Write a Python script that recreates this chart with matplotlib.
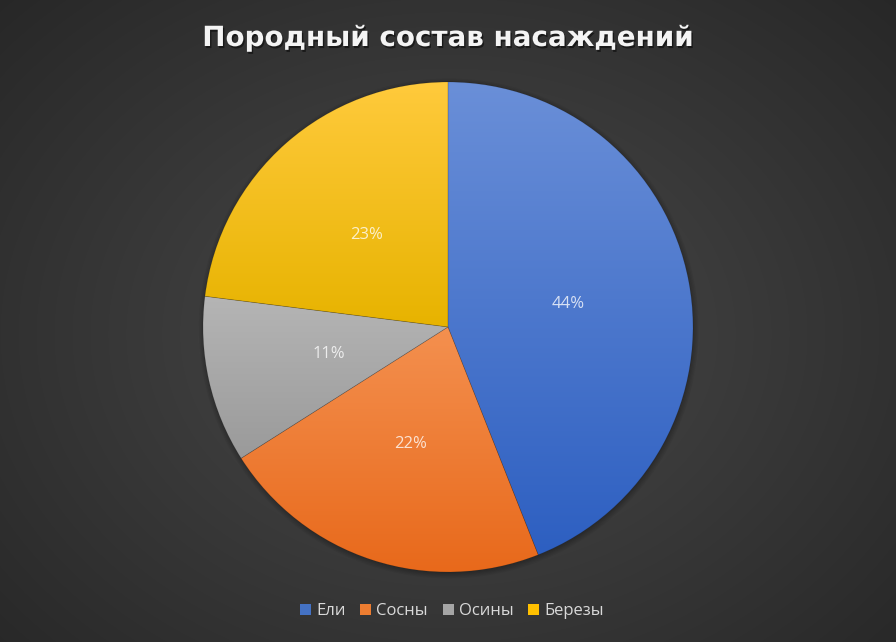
import numpy as np
import matplotlib.pyplot as plt
import matplotlib.patheffects as pe
from matplotlib.patches import Patch, Circle
from matplotlib.colors import to_rgb

# data
labels = ['Ели', 'Сосны', 'Осины', 'Березы']
shares = [44, 22, 11, 23]
colors = ['#4472C4', '#ED7D31', '#A5A5A5', '#FFC000']
# gradient ends (top -> bottom) for each slice
tops = ['#6a8fd8', '#f4904f', '#b5b5b5', '#ffca3c']
bottoms = ['#2d5fc1', '#e8691b', '#9a9a9a', '#e7b300']
title = 'Породный состав насаждений'

W, H = 896, 642
fig = plt.figure(figsize=(W / 100, H / 100), dpi=100)

# dark radial background
bg = fig.add_axes([0, 0, 1, 1])
bg.axis('off')
yy, xx = np.mgrid[0:H, 0:W]
d = np.sqrt(((xx - W * 0.5) / (W * 0.55)) ** 2 + ((yy - H * 0.52) / (H * 0.6)) ** 2)
d = np.clip(d / 1.3, 0, 1)
lum = 0.29 - 0.14 * d
bg.imshow(np.dstack([lum, lum, lum]), extent=[0, 1, 0, 1], aspect='auto', zorder=0)
bg.set_xlim(0, 1)
bg.set_ylim(0, 1)

# pie axes: centre (448, 327), radius 245 px
cx, cy, r = 448, 327, 245
m = 1.05
ax = fig.add_axes([(cx - r * m) / W, (H - cy - r * m) / H, 2 * r * m / W, 2 * r * m / H])
ax.axis('off')

# soft shadow
for i in range(5):
    ax.add_patch(Circle((0.003, -0.006), 1.0 + 0.005 * i, facecolor='black',
                        edgecolor='none', alpha=0.05, zorder=0.5))

wedges, texts, autotexts = ax.pie(
    shares, startangle=90, counterclock=False, radius=1,
    autopct='%1.0f%%', pctdistance=0.5,
    wedgeprops=dict(linewidth=0.5, edgecolor=(0, 0, 0, 0.15)),
    textprops=dict(color='white', alpha=0.78, fontsize=12, family='Open Sans'))

for w, top, bot in zip(wedges, tops, bottoms):
    t = np.radians(np.linspace(w.theta1, w.theta2, 200))
    ys = np.concatenate([[0], np.sin(t)])
    y0, y1 = ys.min(), ys.max()
    g = np.linspace(0, 1, 256)[:, None, None]
    img = np.array(to_rgb(top)) * (1 - g) + np.array(to_rgb(bot)) * g
    im = ax.imshow(img, extent=[-1, 1, y0, y1], aspect='auto', zorder=1)
    im.set_clip_path(w)
    w.set_facecolor('none')
    w.set_zorder(2)

for t in autotexts:
    t.set_zorder(3)

ax.set_xlim(-m, m)
ax.set_ylim(-m, m)

# title
fig.text(0.5, 1 - 38 / H, title, ha='center', va='center', color='#f4f4f4',
         fontsize=20, fontweight='bold', family='DejaVu Sans',
         path_effects=[pe.SimplePatchShadow(offset=(1, -1.5), shadow_rgbFace='black', alpha=0.5),
                       pe.Normal()])

# legend
handles = [Patch(facecolor=c, edgecolor='none') for c in colors]
fig.legend(handles, labels, loc='center', bbox_to_anchor=(452 / W, 1 - 611 / H),
           ncol=4, frameon=False, handlelength=0.65, handleheight=0.65,
           handletextpad=0.3, columnspacing=0.9, labelcolor='#d9d9d9',
           prop=dict(family='Open Sans', size=12))

fig.savefig('out.png', dpi=100)
